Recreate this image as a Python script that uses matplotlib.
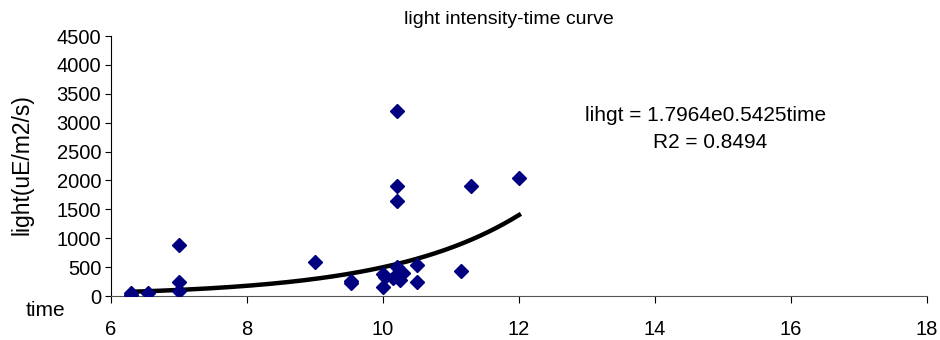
import numpy as np
import matplotlib
matplotlib.use("Agg")
import matplotlib.pyplot as plt

plt.rcParams['font.family'] = ['Liberation Sans', 'DejaVu Sans']

# data (time in hours, light in uE/m2/s)
time = [6.3, 6.3, 6.55, 7.0, 7.0, 7.0, 9.0, 9.53, 9.53,
        10.0, 10.0, 10.03, 10.15, 10.2, 10.2, 10.2, 10.2, 10.25, 10.3,
        10.5, 10.5, 11.15, 11.3, 12.0]
light = [20, 50, 50, 880, 240, 90, 590, 260, 230,
         160, 380, 330, 310, 500, 3200, 1900, 1650, 280, 400,
         540, 240, 430, 1900, 2050]

x_ticks = [6, 8, 10, 12, 14, 16, 18]
y_ticks = [0, 500, 1000, 1500, 2000, 2500, 3000, 3500, 4000, 4500]

title = "light intensity-time curve"
eq_text = "lihgt = 1.7964e0.5425time"
r2_text = "R2 = 0.8494"

fig = plt.figure(figsize=(9.4, 3.4), dpi=100)
ax = fig.add_axes([111/940, 44/340, 816/940, 260/340])

t = np.array(time)
l = np.array(light)
b, ln_a = np.polyfit(t, np.log(l), 1)
xs = np.linspace(t.min(), t.max(), 200)
ax.plot(xs, np.exp(ln_a) * np.exp(b * xs), color='black', lw=3.2, zorder=2)

ax.plot(time, light, linestyle='none', marker='D', markersize=7.5,
        color='#000080', markeredgecolor='#000080', zorder=3)

ax.set_xlim(6, 18)
ax.set_ylim(0, 4500)
ax.set_xticks(x_ticks)
ax.set_yticks(y_ticks)
ax.tick_params(axis='x', direction='out', length=5, pad=12, labelsize=14.5)
ax.tick_params(axis='y', direction='out', length=4, pad=3, labelsize=14.5)
for s in ['top', 'right']:
    ax.spines[s].set_visible(False)
ax.spines['bottom'].set_color('#555555')

fig.text(509/940, 1 - 20/340, title, ha='center', va='center', fontsize=14)
fig.text(22/940, 1 - 165/340, "light(uE/m2/s)", rotation=90, ha='center',
         va='center', fontsize=16.5)
fig.text(45/940, 1 - 311/340, "time", ha='center', va='center', fontsize=15)

ax.text(0.581, 0.696, eq_text, transform=ax.transAxes, ha='left', va='center',
        fontsize=15)
ax.text(0.734, 0.592, r2_text, transform=ax.transAxes, ha='center', va='center',
        fontsize=15)

fig.savefig("out.png", dpi=100)
